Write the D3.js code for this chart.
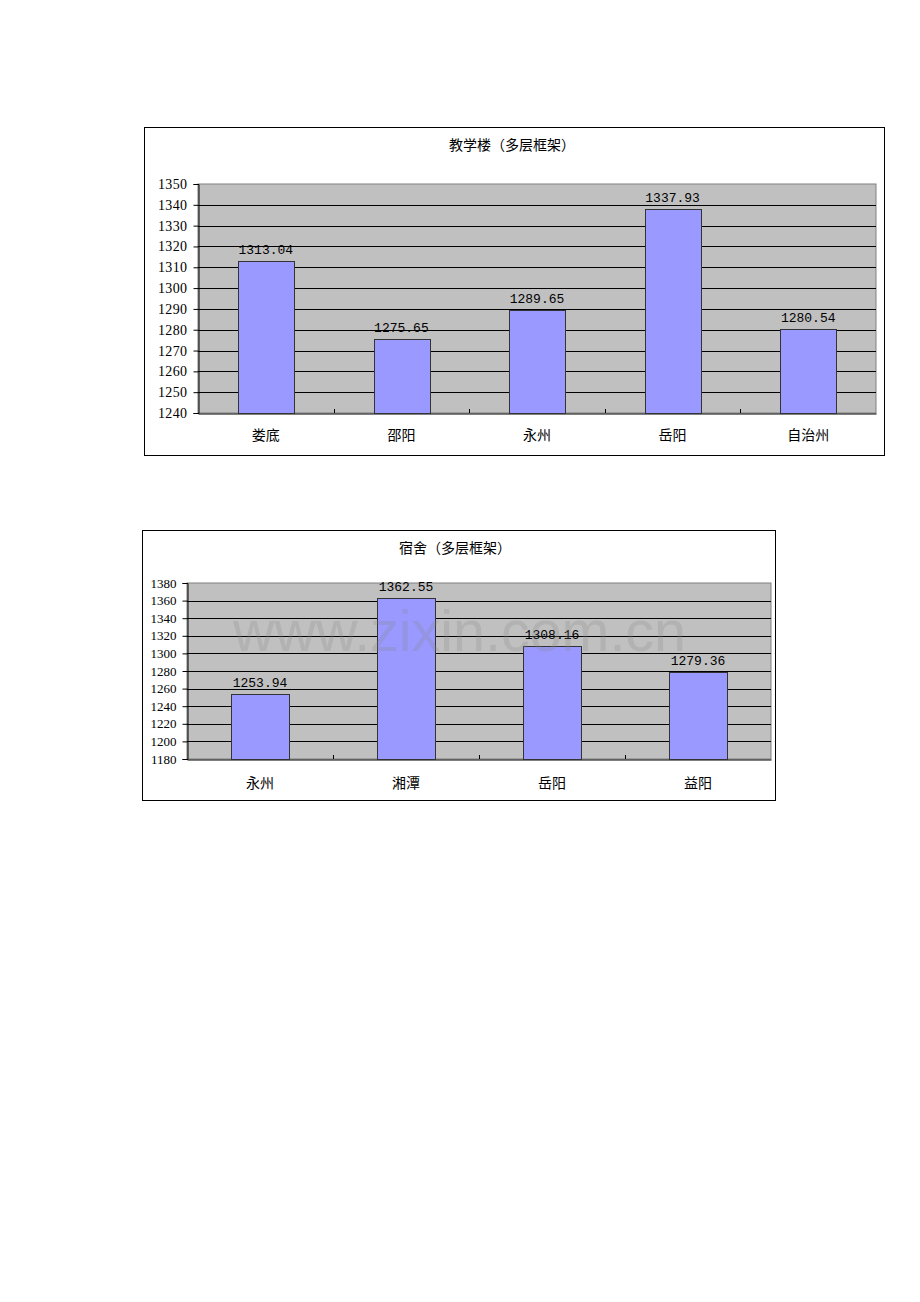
<!DOCTYPE html>
<html><head><meta charset="utf-8">
<script src="https://cdn.jsdelivr.net/npm/d3@7"></script>
<style>body{margin:0;background:#fff}svg{display:block}</style>
</head><body>
<svg id="c" width="920" height="1302"></svg>
<script>
const chart1Title = "教学楼（多层框架）";
const chart1Categories = ["娄底", "邵阳", "永州", "岳阳", "自治州"];
const chart1Values = [1313.04, 1275.65, 1289.65, 1337.93, 1280.54];
const chart1Labels = ["1313.04", "1275.65", "1289.65", "1337.93", "1280.54"];
const chart1Ticks = [1240, 1250, 1260, 1270, 1280, 1290, 1300, 1310, 1320, 1330, 1340, 1350];

const chart2Title = "宿舍（多层框架）";
const chart2Categories = ["永州", "湘潭", "岳阳", "益阳"];
const chart2Values = [1253.94, 1362.55, 1308.16, 1279.36];
const chart2Labels = ["1253.94", "1362.55", "1308.16", "1279.36"];
const chart2Ticks = [1180, 1200, 1220, 1240, 1260, 1280, 1300, 1320, 1340, 1360, 1380];

const watermark = "www.zixin.com.cn";

const svg = d3.select("#c");
const serif = "'Liberation Serif','DejaVu Serif',serif";
const mono = "'Liberation Mono','DejaVu Sans Mono',monospace";
const cjk = "'Noto Sans CJK SC','Noto Sans CJK JP',sans-serif";

function drawChart(cfg) {
  const g = svg.append("g");
  g.append("rect").attr("x", cfg.box[0] + 0.5).attr("y", cfg.box[1] + 0.5)
    .attr("width", cfg.box[2] - cfg.box[0]).attr("height", cfg.box[3] - cfg.box[1])
    .attr("fill", "#fff").attr("stroke", "#000").attr("stroke-width", 1);
  const [x0, y0, x1, y1] = cfg.plot;
  const x = d3.scaleBand().domain(cfg.categories).range([x0, x1]).paddingInner(0).paddingOuter(0);
  const y = d3.scaleLinear().domain(d3.extent(cfg.ticks)).range([y1, y0]);
  g.append("rect").attr("x", x0).attr("y", y0).attr("width", x1 - x0).attr("height", y1 - y0)
    .attr("fill", "#c0c0c0").attr("stroke", "#808080").attr("stroke-width", 1);
  g.append("g").selectAll("line").data(cfg.ticks.slice(1, -1)).join("line")
    .attr("x1", x0).attr("x2", x1)
    .attr("y1", d => Math.round(y(d)) + 0.5).attr("y2", d => Math.round(y(d)) + 0.5)
    .attr("stroke", "#000").attr("stroke-width", 1);
  const ya = g.append("g").attr("transform", `translate(${x0 + 0.5},0)`)
    .call(d3.axisLeft(y).tickValues(cfg.ticks).tickSize(5).tickPadding(6).tickFormat(d3.format("d")));
  ya.select(".domain").attr("stroke", "#000");
  ya.selectAll(".tick line").attr("stroke", "#000");
  ya.selectAll("text").attr("font-family", serif).attr("font-size", cfg.tickFont)
    .attr("letter-spacing", cfg.tickSpacing).attr("fill", "#000");
  const xa = g.append("g").attr("transform", `translate(0,${y1 + 0.5})`)
    .call(d3.axisBottom(x).tickSize(0).tickPadding(cfg.catPad));
  xa.select(".domain").attr("stroke", "#000");
  xa.selectAll("text").attr("font-family", cjk).attr("font-size", cfg.catFont).attr("fill", "#000");
  g.append("g").selectAll("line").data(cfg.categories.slice(1)).join("line")
    .attr("x1", d => Math.round(x(d)) + 0.5).attr("x2", d => Math.round(x(d)) + 0.5)
    .attr("y1", y1 - 4).attr("y2", y1)
    .attr("stroke", "#000");
  const bw = x.bandwidth() * cfg.barFrac;
  const data = cfg.categories.map((c, i) => ({c, v: cfg.values[i], l: cfg.labels[i]}));
  g.append("g").selectAll("rect").data(data).join("rect")
    .attr("x", d => Math.round(x(d.c) + (x.bandwidth() - bw) / 2) + 0.5)
    .attr("y", d => Math.round(y(d.v)) + 0.5)
    .attr("width", Math.round(bw))
    .attr("height", d => Math.round(y1) - Math.round(y(d.v)))
    .attr("fill", "#9999ff").attr("stroke", "#333").attr("stroke-width", 1);
  g.append("g").selectAll("text").data(data).join("text")
    .attr("x", d => x(d.c) + x.bandwidth() / 2)
    .attr("y", d => y(d.v) - 7)
    .attr("text-anchor", "middle")
    .attr("font-family", mono).attr("font-size", cfg.valFont)
    .attr("fill", "#000")
    .text(d => d.l);
  g.append("text").attr("x", cfg.titlePos[0]).attr("y", cfg.titlePos[1])
    .attr("text-anchor", "middle").attr("dominant-baseline", "middle")
    .attr("font-family", cjk).attr("font-size", 14).attr("fill", "#000")
    .text(cfg.title);
  return g;
}

drawChart({
  box: [144, 127, 884, 455],
  plot: [198, 184, 876, 413],
  categories: chart1Categories, values: chart1Values, labels: chart1Labels, ticks: chart1Ticks,
  title: chart1Title, titlePos: [512, 146],
  barFrac: 0.41, tickFont: 14, tickSpacing: "0.4px", valFont: 13, catFont: 14, catPad: 17
});

drawChart({
  box: [142, 530, 775, 800],
  plot: [187, 583, 771, 759],
  categories: chart2Categories, values: chart2Values, labels: chart2Labels, ticks: chart2Ticks,
  title: chart2Title, titlePos: [455, 549],
  barFrac: 0.4, tickFont: 13, tickSpacing: "0px", valFont: 13, catFont: 14, catPad: 19
});

svg.append("text").attr("x", 233).attr("y", 651)
  .attr("font-family", "'Liberation Sans',Arial,sans-serif").attr("font-size", 58)
  .attr("textLength", 453).attr("lengthAdjust", "spacingAndGlyphs")
  .attr("fill", "#888").attr("fill-opacity", 0.25)
  .text(watermark);
</script>
</body></html>
